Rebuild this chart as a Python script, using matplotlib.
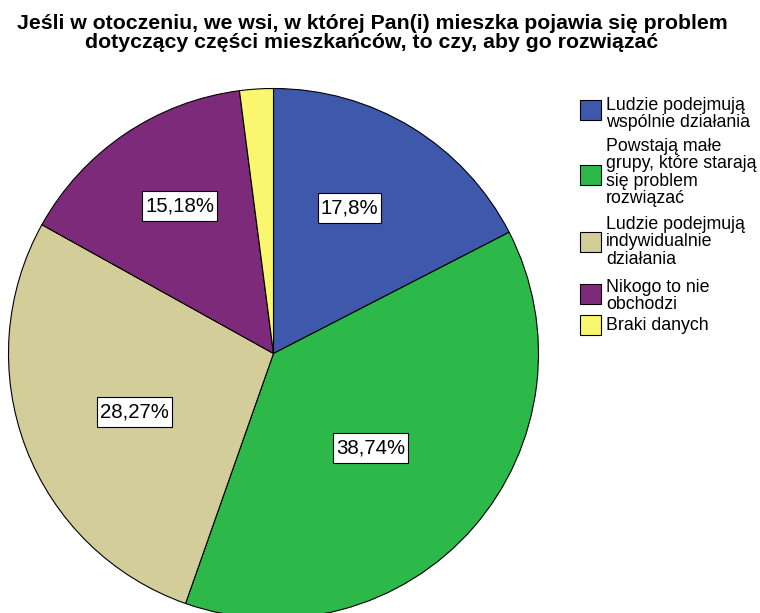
import matplotlib
matplotlib.use("Agg")
import matplotlib.pyplot as plt
from matplotlib.patches import Rectangle
from matplotlib.transforms import IdentityTransform

plt.rcParams["font.family"] = ["Liberation Sans", "DejaVu Sans"]

# Data: counts per answer (labels show percent of valid answers, without missing)
categories = [
    "Ludzie podejmują\nwspólnie działania",
    "Powstają małe\ngrupy, które starają\nsię problem\nrozwiązać",
    "Ludzie podejmują\nindywidualnie\ndziałania",
    "Nikogo to nie\nobchodzi",
    "Braki danych",
]
counts = [34, 74, 54, 29, 4]
pct_labels = ["17,8%", "38,74%", "28,27%", "15,18%", None]
colors = ["#3E58AC", "#2DB84A", "#D3CD9A", "#7E2A7A", "#FAF76E"]

TITLE = ("Jeśli w otoczeniu, we wsi, w której Pan(i) mieszka pojawia się problem\n"
         "dotyczący części mieszkańców, to czy, aby go rozwiązać")

W, H = 760, 613
fig = plt.figure(figsize=(W / 100, H / 100), dpi=100)
fig.patch.set_facecolor("white")

# pie centre and radius in pixels (from top-left)
cx, cy, R = 273.5, 353.5, 265
ax = fig.add_axes([(cx - R) / W, (H - cy - R) / H, 2 * R / W, 2 * R / H])

wedges, _ = ax.pie(counts, colors=colors, startangle=90, counterclock=False,
                   radius=1, wedgeprops=dict(edgecolor="black", linewidth=0.8))
ax.set_xlim(-1, 1)
ax.set_ylim(-1, 1)
ax.set_aspect("equal")
ax.axis("off")

# where the percent labels sit inside each slice (radius = 1)
label_xy = [(0.287, 0.549), (0.366, -0.355), (-0.523, -0.221), (-0.353, 0.557), None]
texts = []
for lab, xy in zip(pct_labels, label_xy):
    if lab is None:
        continue
    texts.append(ax.text(xy[0], xy[1], lab, ha="center", va="center",
                         fontsize=14.7, color="black", zorder=5))

fig.text(372 / W, 1 - 33 / H, TITLE, ha="center", va="center", fontsize=15.3,
         fontweight="bold", linespacing=1.0)

# legend drawn by hand
box_y = [109.5, 175, 241.7, 293.5, 325]
text_y = [114, 172.5, 242, 296, 326]
for lab, col, by, ty in zip(categories, colors, box_y, text_y):
    fig.patches.append(Rectangle((580 / W, 1 - (by + 10) / H), 21 / W, 20 / H,
                                 transform=fig.transFigure, fc=col, ec="black", lw=0.8))
    fig.text(606 / W, 1 - ty / H, lab, ha="left", va="center", fontsize=12.8,
             linespacing=1.04)

# white boxes behind the percent labels, a bit taller than the text
fig.canvas.draw()
for t in texts:
    bb = t.get_window_extent()
    xc, yc = (bb.x0 + bb.x1) / 2, (bb.y0 + bb.y1) / 2
    bw, bh = bb.width + 6, 30
    box = Rectangle((xc - bw / 2, yc - bh / 2), bw, bh, transform=IdentityTransform(),
                    fc="white", ec="black", lw=0.8, zorder=4)
    ax.add_artist(box)

fig.savefig("out.png", dpi=100)
